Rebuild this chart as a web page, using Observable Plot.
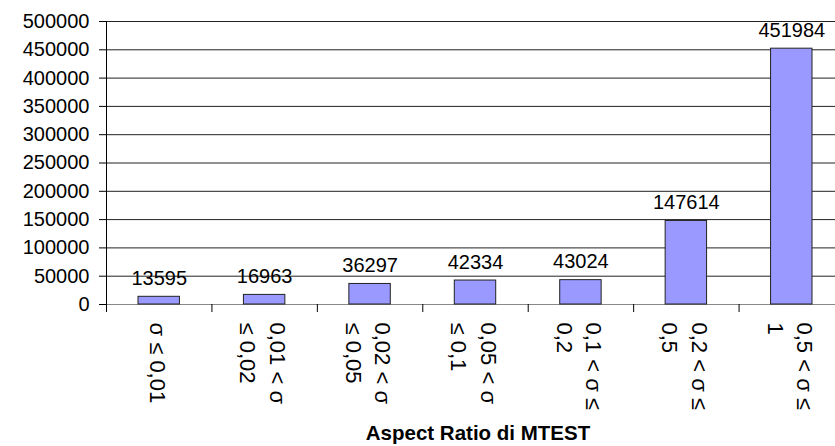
<!DOCTYPE html>
<html>
<head>
<meta charset="utf-8">
<script src="https://cdn.jsdelivr.net/npm/d3@7"></script>
<script src="https://cdn.jsdelivr.net/npm/@observablehq/plot@0.6"></script>
<style>
  html, body { margin: 0; padding: 0; background: #fff; }
  svg { display: block; }
</style>
</head>
<body>
<div id="chart"></div>
<script>
const categories = ["σ ≤ 0,01", "0,01 < σ ≤ 0,02", "0,02 < σ ≤ 0,05", "0,05 < σ ≤ 0,1", "0,1 < σ ≤ 0,2", "0,2 < σ ≤ 0,5", "0,5 < σ ≤ 1"];
const tickLabels = ["σ ≤ 0,01", "0,01 < σ\n≤ 0,02", "0,02 < σ\n≤ 0,05", "0,05 < σ\n≤ 0,1", "0,1 < σ ≤\n0,2", "0,2 < σ ≤\n0,5", "0,5 < σ ≤\n1"];
const values = [13595, 16963, 36297, 42334, 43024, 147614, 451984];
const yTicks = [0, 50000, 100000, 150000, 200000, 250000, 300000, 350000, 400000, 450000, 500000];
const xTitle = "Aspect Ratio di MTEST";

const data = categories.map((c, i) => ({category: c, label: tickLabels[i], value: values[i], i}));
const boundaries = categories.map((c, i) => i).concat([categories.length]);

const chart = Plot.plot({
  width: 835,
  height: 446,
  marginLeft: 106,
  marginRight: 0,
  marginTop: 21,
  marginBottom: 142,
  style: {fontFamily: "'Liberation Sans', Arial, sans-serif", background: "#fff", color: "#000"},
  x: {domain: [0, categories.length], range: [106, 844]},
  y: {domain: [0, 500000]},
  marks: [
    Plot.ruleY(yTicks.filter(d => d > 0), {stroke: "#222", strokeWidth: 1}),
    Plot.ruleY([0], {stroke: "#888"}),
    Plot.ruleX([0], {y1: 0, y2: 500000, stroke: "#000"}),
    Plot.axisY({ticks: yTicks, tickSize: 7, tickPadding: 10, tickFormat: d3.format("d"), fontSize: 20, label: null, stroke: "#000"}),
    Plot.axisX({ticks: boundaries, tickSize: 8, tickFormat: () => "", label: null, stroke: "#000"}),
    Plot.rectY(data, {x1: d => d.i, x2: d => d.i + 1, y: "value", fill: "#9999ff", stroke: "#222", strokeWidth: 1, insetLeft: 32, insetRight: 32}),
    Plot.text(data, {x: d => d.i + 0.5, y: "value", text: d => String(d.value), lineAnchor: "bottom", dy: -12, fontSize: 20, fill: "#000"}),
    Plot.text(data, {x: d => d.i + 0.5, text: "label", frameAnchor: "bottom", rotate: 90, textAnchor: "start", lineAnchor: "middle", lineHeight: 1.34, dy: 18, fontSize: 22, fill: "#000"}),
    Plot.text([xTitle], {frameAnchor: "bottom", lineAnchor: "bottom", dx: 7, dy: 135, fontSize: 20.5, fontWeight: "bold", fill: "#000"})
  ]
});
document.getElementById("chart").appendChild(chart);
</script>
</body>
</html>
